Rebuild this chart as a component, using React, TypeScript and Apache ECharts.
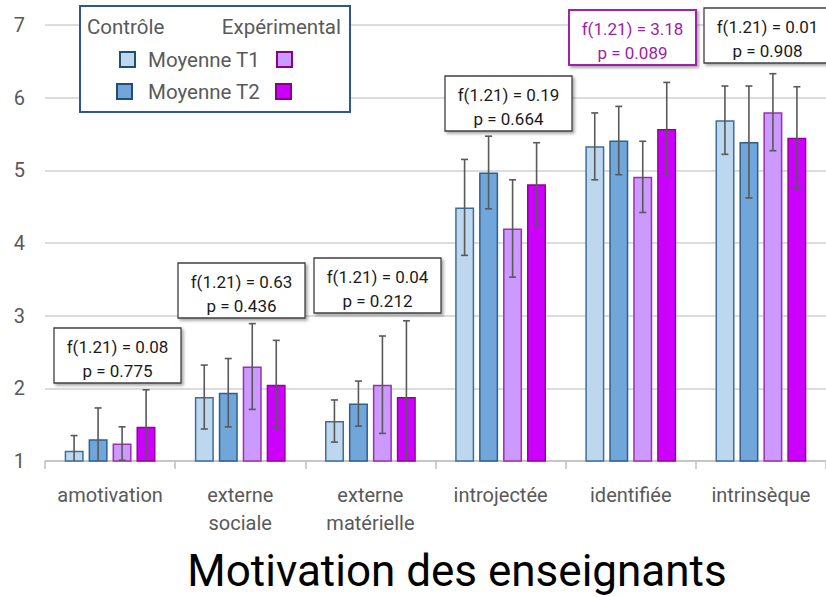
import React, { useEffect, useRef } from "react";
import * as echarts from "echarts";

const categories = ["amotivation", "externe\nsociale", "externe\nmatérielle", "introjectée", "identifiée", "intrinsèque"];
const controlT1 = [1.14, 1.88, 1.55, 4.49, 5.33, 5.69];
const controlT2 = [1.3, 1.94, 1.79, 4.97, 5.41, 5.39];
const expT1 = [1.24, 2.3, 2.05, 4.2, 4.91, 5.8];
const expT2 = [1.47, 2.05, 1.88, 4.81, 5.57, 5.45];
const errControlT1 = [0.21, 0.44, 0.29, 0.66, 0.46, 0.47];
const errControlT2 = [0.43, 0.47, 0.31, 0.5, 0.47, 0.77];
const errExpT1 = [0.23, 0.59, 0.67, 0.67, 0.49, 0.53];
const errExpT2 = [0.51, 0.61, 1.05, 0.57, 0.64, 0.7];
const fStats = ["0.08", "0.63", "0.04", "0.19", "3.18", "0.01"];
const pStats = ["0.775", "0.436", "0.212", "0.664", "0.089", "0.908"];
const yTicks = [1, 2, 3, 4, 5, 6, 7];

const FONT = "Roboto, 'Open Sans', sans-serif";
const GRAY = "#595959";

const seriesDefs = [
  { name: "Contrôle T1", values: controlT1, errs: errControlT1, color: "#BDD7EE", border: "#3E6E9C" },
  { name: "Contrôle T2", values: controlT2, errs: errControlT2, color: "#70A6DA", border: "#2F5F8E" },
  { name: "Expérimental T1", values: expT1, errs: errExpT1, color: "#CC99FF", border: "#9A30B0" },
  { name: "Expérimental T2", values: expT2, errs: errExpT2, color: "#CC00FF", border: "#990099" },
];

// annotation box layout (pixels): left, top
const boxLayout = [
  [54, 328],
  [178, 263],
  [314, 258],
  [445, 76],
  [569, 10],
  [704, 8],
];

export default function App() {
  const ref = useRef<HTMLDivElement>(null);
  useEffect(() => {
    if (!ref.current) return;
    const chart = echarts.init(ref.current, null, { renderer: "svg" });
    const BAR_W = 19;
    const offsets = [-36, -12, 12, 36];
    const Z = 100;

    const errData: number[][] = [];
    seriesDefs.forEach((s, si) => {
      s.values.forEach((v, ci) => errData.push([ci, v, s.errs[ci], si]));
    });

    const annotations: any[] = [];
    fStats.forEach((f, i) => {
      const [left, top] = boxLayout[i];
      const highlight = i === 4;
      const w = 127;
      const h = 55;
      const col = highlight ? "#A020A8" : "#1a1a1a";
      annotations.push({
        type: "rect",
        z: Z,
        shape: { x: left, y: top, width: w, height: h },
        style: {
          fill: "#fff",
          stroke: highlight ? "#A020A8" : "#404040",
          lineWidth: highlight ? 2 : 1.3,
          shadowBlur: 3,
          shadowOffsetX: 2,
          shadowOffsetY: 2,
          shadowColor: "rgba(0,0,0,0.35)",
        },
      });
      annotations.push({
        type: "text",
        z: Z + 1,
        x: left + w / 2,
        y: top + 19,
        style: {
          text: `f(1.21) = ${f}`,
          fill: col,
          fontSize: 17,
          fontFamily: FONT,
          align: "center",
          verticalAlign: "middle",
        },
      });
      annotations.push({
        type: "text",
        z: Z + 1,
        x: left + w / 2,
        y: top + 43,
        style: {
          text: `p = ${pStats[i]}`,
          fill: col,
          fontSize: 17,
          fontFamily: FONT,
          align: "center",
          verticalAlign: "middle",
        },
      });
    });

    const legendText = (text: string, x: number, y: number, align = "left") => ({
      type: "text",
      z: Z + 1,
      x,
      y,
      style: { text, fill: GRAY, fontSize: 20.5, fontFamily: FONT, align, verticalAlign: "middle" },
    });
    const legendSquare = (x: number, y: number, fill: string, stroke: string) => ({
      type: "rect",
      z: Z + 1,
      shape: { x, y, width: 15, height: 15 },
      style: { fill, stroke, lineWidth: 2 },
    });

    const legend: any[] = [
      {
        type: "rect",
        z: Z,
        shape: { x: 80, y: 6, width: 270, height: 106 },
        style: { fill: "#fff", stroke: "#2F5597", lineWidth: 2 },
      },
      legendText("Contrôle", 87, 27),
      legendText("Expérimental", 341, 27, "right"),
      legendSquare(120, 52, seriesDefs[0].color, "#1F4E79"),
      legendText("Moyenne T1", 148, 60),
      legendSquare(277, 52, seriesDefs[2].color, "#8B008B"),
      legendSquare(117, 84, seriesDefs[1].color, "#1F4E79"),
      legendText("Moyenne T2", 148, 92),
      legendSquare(276, 84, seriesDefs[3].color, "#8B008B"),
    ];

    const option: any = {
      animation: false,
      backgroundColor: "#fff",
      textStyle: { fontFamily: FONT },
      grid: { left: 45, top: 25, height: 436, width: 788 },
      title: {
        text: "Motivation des enseignants",
        left: 452,
        top: 544,
        textAlign: "center",
        textStyle: { fontSize: 44, fontWeight: "normal", color: "#000", fontFamily: FONT },
      },
      xAxis: {
        type: "category",
        data: categories,
        axisLine: { lineStyle: { color: "#BFBFBF", width: 1.5 } },
        axisTick: { show: true, length: 8, lineStyle: { color: "#BFBFBF", width: 1.5 } },
        axisLabel: { color: GRAY, fontSize: 20, lineHeight: 28, margin: 20, fontFamily: FONT, interval: 0 },
      },
      yAxis: {
        type: "value",
        min: yTicks[0],
        max: yTicks[yTicks.length - 1],
        interval: 1,
        axisLine: { show: false },
        axisTick: { show: false },
        axisLabel: { color: GRAY, fontSize: 20, margin: 20, fontFamily: FONT },
        splitLine: { lineStyle: { color: "#D0D0D0", width: 1.5 } },
      },
      series: [
        ...seriesDefs.map((s) => ({
          type: "bar",
          name: s.name,
          data: s.values,
          barWidth: BAR_W,
          barGap: "26%",
          itemStyle: { color: s.color, borderColor: s.border, borderWidth: 1.5 },
        })),
        {
          type: "custom",
          name: "err",
          z: 10,
          clip: true,
          data: errData,
          renderItem: (params: any, api: any) => {
            const ci = api.value(0);
            const v = api.value(1);
            const e = api.value(2);
            const si = api.value(3);
            const top = api.coord([ci, v + e]);
            const lowVal = Math.max(v - e, yTicks[0]);
            const bot = api.coord([ci, lowVal]);
            const x = top[0] + offsets[si];
            const style = { stroke: "#595959", lineWidth: 1.6 };
            const children: any[] = [
              { type: "line", shape: { x1: x, y1: top[1], x2: x, y2: bot[1] }, style },
              { type: "line", shape: { x1: x - 3.5, y1: top[1], x2: x + 3.5, y2: top[1] }, style },
            ];
            if (v - e >= yTicks[0]) {
              children.push({ type: "line", shape: { x1: x - 3.5, y1: bot[1], x2: x + 3.5, y2: bot[1] }, style });
            }
            return { type: "group", children };
          },
        },
      ],
      graphic: { elements: [...legend, ...annotations] },
    };
    chart.setOption(option);
    return () => chart.dispose();
  }, []);
  return <div ref={ref} style={{ width: 826, height: 597, position: "absolute", left: 0, top: 0 }} />;
}
